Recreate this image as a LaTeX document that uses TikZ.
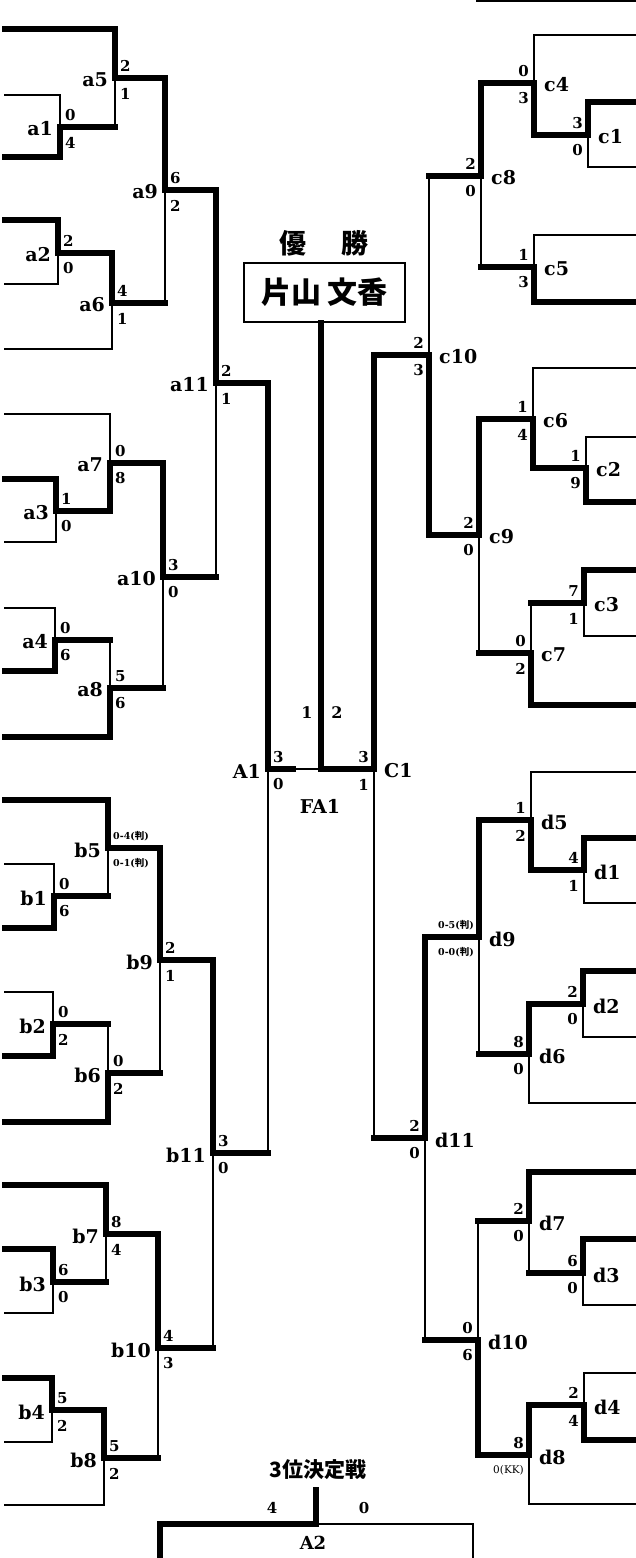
\documentclass[tikz,border=0pt]{standalone}
\usepackage{fontspec}
\setmainfont{DejaVu Serif}
\newfontfamily\jp{Noto Sans CJK JP}
\newcommand\smallsc{\fontsize{9.5}{9.5}\selectfont}
% left-side match: name, position, upper score, lower score
\newcommand\mL[4]{%
  \coordinate (#1) at #2;
  \node[mlab,anchor=east,xshift=-7pt,yshift=-2pt] (#1lab) at (#1) {#1};
  \node[sc,anchor=west,xshift=5pt,yshift=12pt] (#1up) at (#1) {#3};
  \node[sc,anchor=west,xshift=5pt,yshift=-15.5pt] (#1dn) at (#1) {#4};}
% right-side match
\newcommand\mR[4]{%
  \coordinate (#1) at #2;
  \node[mlab,anchor=west,xshift=10pt,yshift=-2pt] (#1lab) at (#1) {#1};
  \node[sc,anchor=east,xshift=-5pt,yshift=12pt] (#1up) at (#1) {#3};
  \node[sc,anchor=east,xshift=-5pt,yshift=-15.5pt] (#1dn) at (#1) {#4};}
% player line: style, name, position, match
\newcommand\pl[4]{\coordinate (#2) at #3; \draw[#1] (#2) -| (#4);}
% winner of a match going to next match: vertical style, source, target
\newcommand\sr[3]{\draw[thk] (#2) -- (#2 -| #3); \draw[#1] (#2 -| #3) -- (#3);}
\begin{document}
\begin{tikzpicture}[x=1pt,y=-1pt,
  thk/.style={line width=6.5pt,line cap=rect,line join=miter},
  thn/.style={line width=2.2pt,line cap=rect,line join=miter},
  mlab/.style={font=\fontsize{19}{19}\selectfont\bfseries,inner sep=0pt},
  sc/.style={font=\fontsize{15}{15}\selectfont\bfseries,inner sep=0pt}]
\useasboundingbox (0,0) rectangle (636,1558);
\fill[white] (0,0) rectangle (636,1558);

% ---------- matches, left ----------
\mL{a1}{(60,127)}{0}{4}
\mL{a2}{(58,253)}{2}{0}
\mL{a3}{(56,511)}{1}{0}
\mL{a4}{(55,640)}{0}{6}
\mL{a5}{(115,78)}{2}{1}
\mL{a6}{(112,303)}{4}{1}
\mL{a7}{(110,463)}{0}{8}
\mL{a8}{(110,688)}{5}{6}
\mL{a9}{(165,190)}{6}{2}
\mL{a10}{(163,577)}{3}{0}
\mL{a11}{(216,383)}{2}{1}
\mL{b1}{(54,896)}{0}{6}
\mL{b2}{(53,1024)}{0}{2}
\mL{b3}{(53,1282)}{6}{0}
\mL{b4}{(52,1410)}{5}{2}
\mL{b5}{(108,848)}{\smallsc 0-4({\jp 判})}{\smallsc 0-1({\jp 判})}
\mL{b6}{(108,1073)}{0}{2}
\mL{b7}{(106,1234)}{8}{4}
\mL{b8}{(104,1458)}{5}{2}
\mL{b9}{(160,960)}{2}{1}
\mL{b10}{(158,1348)}{4}{3}
\mL{b11}{(213,1153)}{3}{0}
\mL{A1}{(268,769)}{3}{0}

% ---------- matches, right ----------
\mR{c1}{(588,135)}{3}{0}
\mR{c2}{(586,468)}{1}{9}
\mR{c3}{(584,603)}{7}{1}
\mR{c4}{(534,83)}{0}{3}
\mR{c5}{(534,267)}{1}{3}
\mR{c6}{(533,419)}{1}{4}
\mR{c7}{(531,653)}{0}{2}
\mR{c8}{(481,176)}{2}{0}
\mR{c9}{(479,535)}{2}{0}
\mR{c10}{(429,355)}{2}{3}
\mR{C1}{(374,769)}{3}{1}
\mR{d1}{(584,870)}{4}{1}
\mR{d2}{(583,1004)}{2}{0}
\mR{d3}{(583,1273)}{6}{0}
\mR{d4}{(584,1405)}{2}{4}
\mR{d5}{(531,820)}{1}{2}
\mR{d6}{(529,1054)}{8}{0}
\mR{d7}{(529,1221)}{2}{0}
\mR{d8}{(529,1455)}{8}{\fontsize{10.5}{10.5}\selectfont\mdseries 0(KK)}
\mR{d9}{(479,937)}{\smallsc 0-5({\jp 判})}{\smallsc 0-0({\jp 判})}
\mR{d10}{(478,1340)}{0}{6}
\mR{d11}{(425,1138)}{2}{0}

% ---------- player lines, left ----------
\pl{thk}{a5u}{(5,29)}{a5}
\pl{thn}{a1u}{(5,95)}{a1}
\pl{thk}{a1l}{(5,157)}{a1}
\pl{thk}{a2u}{(5,220)}{a2}
\pl{thn}{a2l}{(5,284)}{a2}
\pl{thn}{a6l}{(5,349)}{a6}
\pl{thn}{a7u}{(5,414)}{a7}
\pl{thk}{a3u}{(5,479)}{a3}
\pl{thn}{a3l}{(5,542)}{a3}
\pl{thn}{a4u}{(5,608)}{a4}
\pl{thk}{a4l}{(5,671)}{a4}
\pl{thk}{a8l}{(5,737)}{a8}
\pl{thk}{b5u}{(5,800)}{b5}
\pl{thn}{b1u}{(5,864)}{b1}
\pl{thk}{b1l}{(5,928)}{b1}
\pl{thn}{b2u}{(5,992)}{b2}
\pl{thk}{b2l}{(5,1056)}{b2}
\pl{thk}{b6l}{(5,1122)}{b6}
\pl{thk}{b7u}{(5,1185)}{b7}
\pl{thk}{b3u}{(5,1249)}{b3}
\pl{thn}{b3l}{(5,1313)}{b3}
\pl{thk}{b4u}{(5,1378)}{b4}
\pl{thn}{b4l}{(5,1442)}{b4}
\pl{thn}{b8l}{(5,1505)}{b8}

% ---------- player lines, right ----------
\pl{thn}{c4u}{(640,35)}{c4}
\pl{thk}{c1u}{(640,102)}{c1}
\pl{thn}{c1l}{(640,167)}{c1}
\pl{thn}{c5u}{(640,235)}{c5}
\pl{thk}{c5l}{(640,302)}{c5}
\pl{thn}{c6u}{(640,368)}{c6}
\pl{thn}{c2u}{(640,437)}{c2}
\pl{thk}{c2l}{(640,502)}{c2}
\pl{thk}{c3u}{(640,570)}{c3}
\pl{thn}{c3l}{(640,636)}{c3}
\pl{thk}{c7l}{(640,705)}{c7}
\pl{thn}{d5u}{(640,772)}{d5}
\pl{thk}{d1u}{(640,838)}{d1}
\pl{thn}{d1l}{(640,903)}{d1}
\pl{thk}{d2u}{(640,971)}{d2}
\pl{thn}{d2l}{(640,1037)}{d2}
\pl{thn}{d6l}{(640,1103)}{d6}
\pl{thk}{d7u}{(640,1172)}{d7}
\pl{thk}{d3u}{(640,1239)}{d3}
\pl{thn}{d3l}{(640,1305)}{d3}
\pl{thn}{d4u}{(640,1373)}{d4}
\pl{thk}{d4l}{(640,1440)}{d4}
\pl{thn}{d8l}{(640,1504)}{d8}

% ---------- winners advancing ----------
\sr{thn}{a1}{a5}
\sr{thk}{a2}{a6}
\sr{thk}{a5}{a9}
\sr{thn}{a6}{a9}
\sr{thk}{a3}{a7}
\sr{thn}{a4}{a8}
\sr{thk}{a7}{a10}
\sr{thn}{a8}{a10}
\sr{thk}{a9}{a11}
\sr{thn}{a10}{a11}
\sr{thk}{a11}{A1}
\sr{thn}{b11}{A1}
\sr{thn}{b1}{b5}
\sr{thn}{b2}{b6}
\sr{thk}{b5}{b9}
\sr{thn}{b6}{b9}
\sr{thn}{b3}{b7}
\sr{thk}{b4}{b8}
\sr{thk}{b7}{b10}
\sr{thn}{b8}{b10}
\sr{thk}{b9}{b11}
\sr{thn}{b10}{b11}
\sr{thk}{c1}{c4}
\sr{thk}{c4}{c8}
\sr{thn}{c5}{c8}
\sr{thk}{c2}{c6}
\sr{thn}{c3}{c7}
\sr{thk}{c6}{c9}
\sr{thn}{c7}{c9}
\sr{thn}{c8}{c10}
\sr{thk}{c9}{c10}
\sr{thk}{c10}{C1}
\sr{thn}{d11}{C1}
\sr{thk}{d1}{d5}
\sr{thk}{d2}{d6}
\sr{thk}{d5}{d9}
\sr{thn}{d6}{d9}
\sr{thn}{d3}{d7}
\sr{thk}{d4}{d8}
\sr{thn}{d7}{d10}
\sr{thk}{d8}{d10}
\sr{thk}{d9}{d11}
\sr{thn}{d10}{d11}

% ---------- final ----------
\node[draw,line width=2pt,minimum width=161pt,minimum height=59pt,inner sep=0pt,
  font=\jp\bfseries\fontsize{30}{30}\selectfont] (champ) at (324,292.5) {片山\hspace{6pt}文香};
\node[font=\jp\bfseries\fontsize{27}{27}\selectfont,inner sep=0pt] (title) at (324,243) {優\hspace{36pt}勝};
\coordinate (FA1) at (321,769);
\coordinate (A1s) at (293,769);
\draw[thn] (A1) -- (FA1);
\draw[thk] (A1) -- (A1s);
\draw[thk] (C1) -- (FA1);
\draw[thk] (FA1) -- (FA1 |- champ.south);
\node[mlab] (FA1lab) at (320,806) {FA1};
\node[sc,font=\fontsize{16}{16}\selectfont\bfseries] (FA1l) at (307,713) {1};
\node[sc,font=\fontsize{16}{16}\selectfont\bfseries] (FA1r) at (337,713) {2};

% ---------- third place ----------
\node[font=\jp\bfseries\fontsize{21}{21}\selectfont,inner sep=0pt] (third) at (318,1470) {3位決定戦};
\coordinate (A2top) at (316,1490);
\coordinate (A2) at (316,1524);
\coordinate (A2L) at (160,1524);
\coordinate (A2Lb) at (160,1565);
\coordinate (A2R) at (473,1524);
\coordinate (A2Rb) at (473,1565);
\draw[thk] (A2top) -- (A2);
\draw[thk] (A2) -- (A2L) -- (A2Lb);
\draw[thn] (A2) -- (A2R) -- (A2Rb);
\node[mlab,font=\fontsize{18}{18}\selectfont\bfseries] (A2lab) at (313,1543) {A2};
\node[sc] (A2l) at (272,1508) {4};
\node[sc] (A2r) at (364,1508) {0};

% ---------- top edge rule ----------
\coordinate (topL) at (476,1);
\coordinate (topR) at (640,1);
\draw[line width=2pt] (topL) -- (topR);
\end{tikzpicture}
\end{document}
